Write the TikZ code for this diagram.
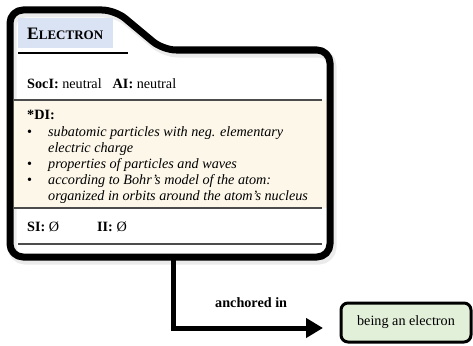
\documentclass[tikz,border=0pt]{standalone}
\usepackage{fontspec}
\setmainfont{Liberation Serif}
\usetikzlibrary{arrows.meta}
\definecolor{headblue}{HTML}{DAE3F3}
\definecolor{defbeige}{HTML}{FDF7EA}
\definecolor{targetgreen}{HTML}{E2EFD9}
\begin{document}
\begin{tikzpicture}[x=1pt,y=-1pt,
  cardframe/.style={line width=7pt, rounded corners=13pt, line join=round},
  cardshadow/.style={line width=9pt, rounded corners=13pt, draw=black, opacity=0.08},
  divider/.style={draw=black!70, line width=1.2pt},
  txt/.style={anchor=base west, inner sep=0pt, font=\fontsize{14.2}{17}\selectfont},
  itxt/.style={txt, font=\fontsize{14.2}{17}\selectfont\itshape},
  link/.style={line width=5pt, -{Triangle[length=17pt,width=19pt]}},
  targetbox/.style={draw, line width=3pt, rounded corners=7pt, fill=targetgreen,
    minimum width=130pt, minimum height=39pt, inner sep=0pt, font=\fontsize{14.2}{17}\selectfont}]
\useasboundingbox (0,0) rectangle (473,345);

% soft shadow under the card
\draw[cardshadow] (12,260) -- (12,13) -- (117,13) -- (165,53) -- (332,53) -- (332,260) -- cycle;

% background bands
\fill[defbeige] (12,100) rectangle (328,208);
\fill[headblue] (18,18) rectangle (113,48);

% card outline with tab
\draw[cardframe, fill=none] (10,257) -- (10,10) -- (115,10) -- (163,50) -- (330,50) -- (330,257) -- cycle;

% dividers
\draw[black, line width=1pt] (18,53) -- (128,53);
\draw[divider] (14,100) -- (322,100);
\draw[divider] (14,208) -- (322,208);
\draw[divider] (18,244) -- (322,244);

% texts
\node[txt] (title) at (27,40) {\textbf{{\fontsize{17.5}{20}\selectfont E}{\fontsize{13}{15}\selectfont LECTRON}}};
\node[txt] (soc) at (27,88) {\textbf{SocI:} neutral\hspace{11pt}\textbf{AI:} neutral};
\node[txt] (di) at (27,119) {\textbf{*DI:}};
\node[txt] (bul1) at (27,136) {•};
\node[itxt] (def1) at (48,136) {subatomic particles with neg. elementary};
\node[itxt] (def1b) at (48,152) {electric charge};
\node[txt] (bul2) at (27,168) {•};
\node[itxt] (def2) at (48,168) {properties of particles and waves};
\node[txt] (bul3) at (27,184) {•};
\node[itxt] (def3) at (48,184) {according to Bohr’s model of the atom:};
\node[itxt] (def3b) at (48,200) {organized in orbits around the atom’s nucleus};
\node[txt] (si) at (27,231) {\textbf{SI:} Ø};
\node[txt] (ii) at (97,231) {\textbf{II:} Ø};

% anchoring relation
\node[targetbox] (target) at (406,322.5) {being an electron};
\coordinate (cardbottom) at (173,258);
\coordinate (arrowend) at (323,328);
\draw[link] (cardbottom) |- (arrowend);
\node[txt] (rel) at (215,307) {\textbf{anchored in}};
\end{tikzpicture}
\end{document}
